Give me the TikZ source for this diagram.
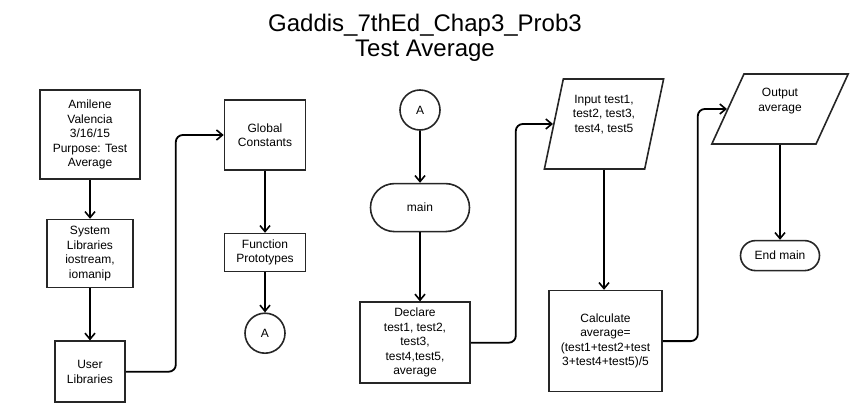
\documentclass[tikz,border=0pt]{standalone}
\usepackage{fontspec}
\setmainfont{Liberation Sans}
\usepackage{tikz}
\usetikzlibrary{shapes.geometric,shapes.misc,arrows.meta,positioning,calc}

\begin{document}
\begin{tikzpicture}[
    x=1pt, y=-1pt,
    font=\fontsize{12}{14.5}\selectfont,
    process/.style={rectangle, draw=black!85, line width=1.6pt, align=center, inner sep=1pt},
    term/.style={rounded rectangle, draw=black!85, line width=1.6pt, align=center, inner sep=1pt},
    io/.style={trapezium, trapezium stretches=true, draw=black!85, line width=1.6pt, align=center, inner sep=1pt},
    connector/.style={circle, draw=black!85, line width=1.6pt, minimum size=40pt, inner sep=0pt},
    arrow/.style={-{Straight Barb[length=6pt, width=10pt, line width=1.6pt]}, line width=1.8pt, rounded corners=7pt}
]
    \useasboundingbox (0,0) rectangle (855,420);

    % Title
    \node[align=center, font=\fontsize{24}{25.5}\selectfont] (title) at (425,38) {Gaddis\_7thEd\_Chap3\_Prob3\\Test Average};

    % Column 1
    \node[process, minimum width=100pt, minimum height=89pt] (info) at (90,134.5) {Amilene\\Valencia\\3/16/15\\Purpose: Test\\Average};
    \node[process, minimum width=86pt, minimum height=68pt, below=39pt of info] (syslib) {System\\Libraries\\iostream,\\iomanip};
    \node[process, minimum width=70pt, minimum height=61pt, below=52pt of syslib] (userlib) {User\\Libraries};

    % Column 2
    \node[process, minimum width=81pt, minimum height=70pt] (global) at (265,135) {Global\\Constants};
    \node[process, minimum width=81pt, minimum height=38pt, below=62pt of global] (proto) {Function\\Prototypes};
    \node[connector, below=40pt of proto] (conA) {A};

    % Column 3
    \node[connector] (conB) at (420,110) {A};
    \node[term, minimum width=101pt, minimum height=48pt, below=52pt of conB] (main) {main};
    \node[process, minimum width=110pt, minimum height=81pt, below=69pt of main, xshift=-5pt] (declare) {Declare\\test1, test2,\\test3,\\test4,test5,\\average};

    % Column 4
    \node[io, trapezium left angle=76, trapezium right angle=104, minimum width=120pt, minimum height=90pt] (input) at (604,124) {Input test1,\\test2, test3,\\test4, test5\\[6pt]};
    \node[process, minimum width=113pt, minimum height=101pt, below=120pt of input, xshift=1.5pt] (calc) {Calculate\\average=\\(test1+test2+test\\3+test4+test5)/5};

    % Column 5
    \node[io, trapezium left angle=65, trapezium right angle=115, minimum width=137pt, minimum height=70pt] (output) at (780,109) {Output\\average\\[4pt]};
    \node[term, minimum width=81pt, minimum height=30pt, below=95pt of output] (endmain) {End main};

    % Arrows
    \draw[arrow] (info) -- (syslib);
    \draw[arrow] (syslib) -- (userlib);
    \draw[arrow] (userlib.east) -- ++(50,0) |- (global.west);
    \draw[arrow] (global) -- (proto);
    \draw[arrow] (proto) -- (conA);
    \draw[arrow] (conB) -- (main);
    \draw[arrow] (main.south) -- (main.south |- declare.north);
    \draw[arrow] (declare.east) -- ++(45,0) |- (input.west);
    \draw[arrow] (input.south) -- (input.south |- calc.north);
    \draw[arrow] (calc.east) -- ++(35,0) |- (output.west);
    \draw[arrow] (output.south) -- (output.south |- endmain.north);
\end{tikzpicture}
\end{document}
